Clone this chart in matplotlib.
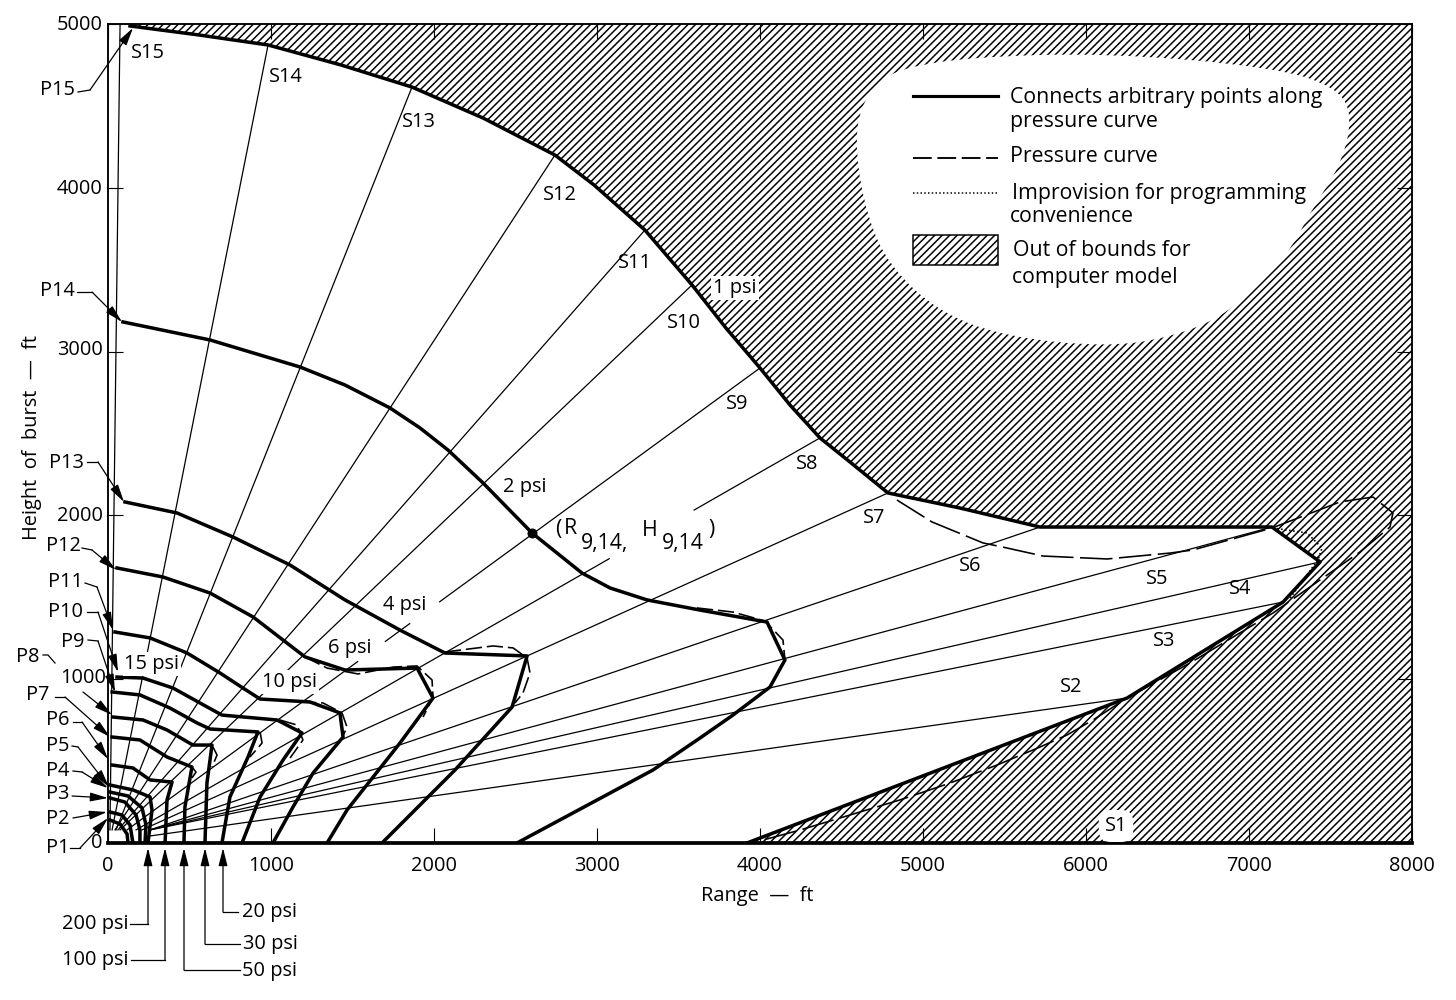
import matplotlib
matplotlib.use('Agg')
import matplotlib.pyplot as plt
from matplotlib.path import Path
from matplotlib.patches import PathPatch, Rectangle

# pressure curves: range (ft), height of burst (ft)
r_1psi = [135, 558, 982, 1429, 1865, 2301, 2742, 2982, 3294, 3583, 3791, 4000, 4184, 4368, 4552, 4785, 5227, 5718, 7141, 7436, 7209, 6252, 3920]
h_1psi = [4988, 4933, 4872, 4750, 4615, 4426, 4200, 4017, 3742, 3407, 3144, 2900, 2674, 2473, 2326, 2137, 2045, 1929, 1929, 1716, 1471, 885, 0]
r_2psi = [92, 626, 1178, 1454, 1730, 1914, 2086, 2301, 2601, 2908, 3080, 3307, 3632, 4043, 4153, 4061, 3834, 3632, 3344, 2509]
h_2psi = [3181, 3071, 2906, 2796, 2656, 2534, 2399, 2198, 1893, 1648, 1557, 1484, 1422, 1349, 1117, 952, 781, 641, 446, 0]
r_4psi = [104, 423, 767, 1117, 1454, 1791, 2067, 2571, 2479, 2129, 1681]
h_4psi = [2082, 2015, 1868, 1697, 1484, 1300, 1160, 1142, 830, 446, 0]
r_6psi = [55, 337, 626, 890, 1074, 1209, 1454, 1896, 1994, 1791, 1466, 1344]
h_6psi = [1679, 1624, 1526, 1380, 1239, 1136, 1056, 1068, 885, 610, 201, 0]
r_10psi = [43, 258, 485, 687, 828, 933, 1239, 1423, 1442, 1258, 1135, 1012]
h_10psi = [1288, 1252, 1160, 1038, 946, 879, 861, 794, 647, 427, 220, 0]
r_15psi = [55, 215, 399, 564, 699, 1037, 1190, 1074, 933, 822]
h_15psi = [1013, 1007, 946, 855, 781, 751, 672, 507, 281, 0]
r_20psi = [25, 196, 380, 546, 626, 920, 859, 748, 699]
h_20psi = [922, 904, 824, 733, 696, 678, 525, 281, 0]
r_30psi = [31, 215, 362, 521, 638, 607, 595]
h_30psi = [769, 751, 690, 598, 598, 366, 0]
r_50psi = [25, 196, 362, 515, 472, 466]
h_50psi = [647, 629, 525, 464, 220, 0]
r_100psi = [25, 153, 258, 393, 362, 350]
h_100psi = [476, 458, 385, 372, 262, 0]
r_200psi = [12, 153, 258, 270, 245]
h_200psi = [354, 324, 281, 201, 0]
r_arc_a = [12, 123, 209, 233, 227]
h_arc_a = [311, 287, 214, 110, 0]
r_arc_b = [12, 104, 172, 196, 196]
h_arc_b = [275, 250, 171, 79, 0]
r_arc_c = [12, 86, 135, 153]
h_arc_c = [189, 171, 110, 0]
r_arc_d = [12, 74, 117, 123]
h_arc_d = [140, 116, 55, 0]

# the true (dashed) pressure curves where they leave the straight segments
r_1psi_dash = [4840, 5055, 5368, 5515, 5736, 6129, 6515, 6656, 7141, 7558, 7761, 7883, 7865, 7681, 7436, 7147, 6638, 6252, 6043, 5883, 5718, 5454, 5166, 4859, 4552, 4245, 4018]
h_1psi_dash = [2094, 1960, 1832, 1801, 1752, 1734, 1770, 1789, 1923, 2082, 2112, 2015, 1929, 1777, 1606, 1404, 1099, 885, 751, 659, 586, 476, 366, 263, 171, 79, 18]
r_2psi_dash = [3613, 3834, 4031, 4141, 4153, 4061, 3834]
h_2psi_dash = [1435, 1410, 1355, 1239, 1117, 952, 781]
r_4psi_dash = [2067, 2362, 2485, 2571, 2589, 2546, 2497]
h_4psi_dash = [1166, 1203, 1191, 1130, 1038, 916, 855]
r_6psi_dash = [1209, 1344, 1534, 1748, 1896, 1988, 1994, 1933]
h_6psi_dash = [1136, 1068, 1032, 1074, 1081, 995, 891, 769]
r_10psi_dash = [1178, 1319, 1436, 1466, 1436]
h_10psi_dash = [861, 855, 794, 708, 641]
r_15psi_dash = [1055, 1160, 1196, 1117]
h_15psi_dash = [751, 720, 629, 519]
r_20psi_dash = [933, 945, 871]
h_20psi_dash = [678, 610, 525]
r_30psi_dash = [644, 669, 638]
h_30psi_dash = [586, 537, 464]
r_50psi_dash = [515, 540, 515]
h_50psi_dash = [464, 433, 397]

r_dotted = [7147, 7356, 7448, 7423, 7252]
h_dotted = [1923, 1893, 1801, 1728, 1495]

# spokes S2..S15
spoke_r0 = [258, 258, 258, 258, 258, 209, 172, 117, 74, 61, 43, 49, 25, 12]
spoke_h0 = [43, 80, 80, 80, 80, 80, 80, 80, 80, 80, 80, 80, 80, 80]
spoke_r1 = [6252, 7209, 7436, 7141, 5718, 4785, 4368, 4000, 3583, 3294, 2742, 1865, 982, 74]
spoke_h1 = [885, 1471, 1716, 1929, 1929, 2137, 2473, 2900, 3407, 3742, 4200, 4615, 4872, 5000]

point_r = [2601]
point_h = [1893]

x_ticks = [0, 1000, 2000, 3000, 4000, 5000, 6000, 7000, 8000]
y_ticks = [0, 1000, 2000, 3000, 4000, 5000]

W, H = 1456, 1000
DPI = 90
plt.rcParams['font.family'] = 'Open Sans'
plt.rcParams['hatch.linewidth'] = 1.2

fig = plt.figure(figsize=(W / DPI, H / DPI), dpi=DPI)
ax = fig.add_axes([108 / W, 1 - 843 / H, (1412 - 108) / W, (843 - 24) / H])
ax.set_xlim(0, 8000)
ax.set_ylim(0, 5000)


def pos(x, y):
    return x / W, 1 - y / H


FS = 16
thick = 2.8
dash = (0, (10, 3))
long_dash = (0, (20, 4))

# out of bounds region
ax.fill([74] + r_1psi + [8000, 8000], [5000] + h_1psi + [0, 5000], facecolor='white', edgecolor='black',
        hatch='////', linewidth=0, zorder=1)

# white blob behind the key
blob = [(880, 80), (860, 107), (855, 150), (867, 217), (890, 267), (940, 313), (1007, 337),
        (1107, 347), (1173, 337), (1230, 313), (1287, 257), (1313, 207), (1340, 167),
        (1353, 117), (1337, 87), (1273, 67), (1107, 53), (973, 57), (907, 67)]
verts = []
codes = []
n = len(blob)
for i in range(n):
    a = blob[i]
    b = blob[(i + 1) % n]
    mid = pos((a[0] + b[0]) / 2, (a[1] + b[1]) / 2)
    if i == 0:
        first = pos((blob[-1][0] + a[0]) / 2, (blob[-1][1] + a[1]) / 2)
        verts.append(first)
        codes.append(Path.MOVETO)
    verts += [pos(*a), mid]
    codes += [Path.CURVE3, Path.CURVE3]
ax.add_patch(PathPatch(Path(verts, codes), facecolor='white', edgecolor='none',
                       transform=fig.transFigure, zorder=1.5))

for i in range(len(spoke_r0)):
    ax.plot([spoke_r0[i], spoke_r1[i]], [spoke_h0[i], spoke_h1[i]], color='black', lw=1.0, zorder=2)

solid = [(r_1psi, h_1psi), (r_2psi, h_2psi), (r_4psi, h_4psi), (r_6psi, h_6psi), (r_10psi, h_10psi),
         (r_15psi, h_15psi), (r_20psi, h_20psi), (r_30psi, h_30psi), (r_50psi, h_50psi),
         (r_100psi, h_100psi), (r_200psi, h_200psi), (r_arc_a, h_arc_a), (r_arc_b, h_arc_b),
         (r_arc_c, h_arc_c), (r_arc_d, h_arc_d)]
for r, h in solid:
    ax.plot(r, h, color='black', lw=thick, solid_joinstyle='round', zorder=4)

ax.plot(r_1psi_dash, h_1psi_dash, color='black', lw=1.3, linestyle=long_dash, zorder=3)
dashed = [(r_2psi_dash, h_2psi_dash), (r_4psi_dash, h_4psi_dash),
          (r_6psi_dash, h_6psi_dash), (r_10psi_dash, h_10psi_dash), (r_15psi_dash, h_15psi_dash),
          (r_20psi_dash, h_20psi_dash), (r_30psi_dash, h_30psi_dash), (r_50psi_dash, h_50psi_dash)]
for r, h in dashed:
    ax.plot(r, h, color='black', lw=1.3, linestyle=dash, zorder=3)

ax.plot(r_dotted, h_dotted, color='black', lw=1.3, linestyle=(0, (1, 1.5)), zorder=3)
ax.plot(point_r, point_h, 'o', color='black', ms=7, zorder=5)
ax.plot([0, 8000], [0, 0], color='black', lw=3, clip_on=False, zorder=5)

# axes
ax.set_xticks(x_ticks)
ax.set_yticks(y_ticks)
ax.set_xticklabels([])
ax.set_yticklabels([])
ax.tick_params(direction='in', length=12, width=0.9, top=True, right=True)
for s in ax.spines.values():
    s.set_linewidth(1.5)
    s.set_zorder(6)

# gaps the drafter left in the spokes around labels
for p, q in [((612, 558), (692, 512)), ((412, 622), (437, 603)), ((383, 643), (360, 660))]:
    fig.add_artist(plt.Line2D([pos(*p)[0], pos(*q)[0]], [pos(*p)[1], pos(*q)[1]], color='white', lw=3.5,
                              transform=fig.transFigure, zorder=1))


def label(x, y, s, white=False, pad=1.5, **kw):
    box = dict(facecolor='white', edgecolor='none', pad=pad) if white else None
    fig.text(*pos(x, y), s, ha=kw.pop('ha', 'center'), va='center', fontsize=kw.pop('fs', FS),
             bbox=box, zorder=8, **kw)


for i, v in enumerate(x_ticks):
    label(108 + v * 0.163, 866, str(v))
for v, x, y in [(0, 97, 843), (1000, 83, 678), (2000, 80, 516), (3000, 80, 350), (4000, 80, 189), (5000, 80, 25)]:
    label(x, y, str(v))
label(32, 437, 'Height  of  burst  —  ft', rotation=90)
label(757, 896, 'Range  —  ft')

# curve labels
for x, y, s in [(735, 288, '1 psi'), (525, 487, '2 psi'), (405, 605, '4 psi'), (350, 648, '6 psi'),
                (290, 682, '10 psi'), (152, 664, '15 psi')]:
    label(x, y, s, white=True)

# spoke labels
for x, y, s in [(148, 53, 'S15'), (286, 77, 'S14'), (419, 122, 'S13'), (560, 195, 'S12'), (635, 263, 'S11'),
                (684, 323, 'S10'), (737, 404, 'S9'), (807, 464, 'S8'), (874, 518, 'S7'), (970, 566, 'S6'),
                (1157, 579, 'S5'), (1240, 589, 'S4'), (1164, 641, 'S3'), (1071, 687, 'S2')]:
    label(x, y, s)
fig.text(*pos(1116, 826), 'S1', ha='center', va='center', fontsize=FS, zorder=8,
         bbox=dict(boxstyle='round,pad=0.3,rounding_size=0.6', facecolor='white', edgecolor='none'))

# the (R, H) label is set in separate pieces, subscripts as big as the letters
for x, y, s in [(558, 530, '('), (570, 528, 'R'), (605, 543, '9,14,'), (650, 530, 'H'), (683, 543, '9,14'), (712, 530, ')')]:
    label(x, y, s, fs=FS + 1)


# leader lines with an arrow on the end
def leader(points, tx, ty, s, ha='center'):
    if tx is not None:
        label(tx, ty, s, ha=ha)
    pts = [pos(*p) for p in points]
    if len(pts) > 2:
        fig.add_artist(plt.Line2D([p[0] for p in pts[:-1]], [p[1] for p in pts[:-1]], color='black',
                                  lw=1.0, transform=fig.transFigure, zorder=7))
    ax.annotate('', xy=pts[-1], xytext=pts[-2], xycoords='figure fraction', textcoords='figure fraction',
                arrowprops=dict(arrowstyle='-|>,head_length=0.8,head_width=0.2', color='black', lw=1.0,
                                mutation_scale=15, shrinkA=0, shrinkB=0), annotation_clip=False, zorder=7)


leader([(78, 92), (90, 90), (133, 28)], 58, 90, 'P15')
leader([(77, 292), (92, 292), (122, 322)], 57, 291, 'P14')
leader([(87, 462), (98, 462), (124, 502)], 66, 463, 'P13')
leader([(82, 548), (92, 550), (116, 570)], 63, 546, 'P12')
leader([(85, 583), (97, 587), (113, 630)], 66, 582, 'P11')
leader([(87, 612), (98, 612), (118, 672)], 66, 612, 'P10')
leader([(88, 640), (98, 641), (115, 692)], 73, 642, 'P9')
leader([(83, 692), (112, 715)], 28, 657, 'P8')
fig.add_artist(plt.Line2D([43 / W, 48 / W, 55 / W], [1 - 655 / H, 1 - 655 / H, 1 - 663 / H], color='black',
                          lw=1.0, transform=fig.transFigure))
leader([(55, 697), (65, 697), (110, 737)], 38, 695, 'P7')
leader([(73, 722), (82, 722), (108, 759)], 58, 720, 'P6')
leader([(72, 746), (78, 747), (109, 787)], 58, 746, 'P5')
leader([(73, 771), (82, 772), (108, 788)], 58, 771, 'P4')
leader([(72, 796), (108, 798)], 58, 794, 'P3')
leader([(73, 818), (107, 812)], 58, 819, 'P2')
leader([(70, 848), (80, 848), (108, 818)], 58, 848, 'P1')

leader([(130, 924), (148, 924), (148, 848)], 95, 924, '200 psi')
leader([(131, 960), (165, 960), (165, 848)], 95, 960, '100 psi')
leader([(240, 970), (184, 970), (184, 848)], 270, 971, '50 psi')
leader([(240, 944), (205, 944), (205, 848)], 270, 944, '30 psi')
leader([(238, 912), (223, 912), (223, 848)], 270, 912, '20 psi')

# key
for y, style, lw in [(96, '-', 2.5), (158, dash, 1.5), (193, (0, (1, 1.5)), 1.2)]:
    fig.add_artist(plt.Line2D([913 / W, 998 / W], [1 - y / H, 1 - y / H], color='black', lw=lw,
                              linestyle=style, transform=fig.transFigure, zorder=7))
fig.add_artist(Rectangle(pos(913, 265), 85 / W, 30 / H, facecolor='white', edgecolor='black', hatch='////',
                         lw=1.2, transform=fig.transFigure, zorder=7))
for x, y, s in [(1010, 98, 'Connects arbitrary points along'), (1010, 122, 'pressure curve'),
                (1010, 157, 'Pressure curve'), (1012, 193, 'Improvision for programming'),
                (1010, 216, 'convenience'), (1013, 251, 'Out of bounds for'), (1012, 277, 'computer model')]:
    label(x, y, s, ha='left', fs=17)

fig.savefig('out.png', dpi=DPI)
